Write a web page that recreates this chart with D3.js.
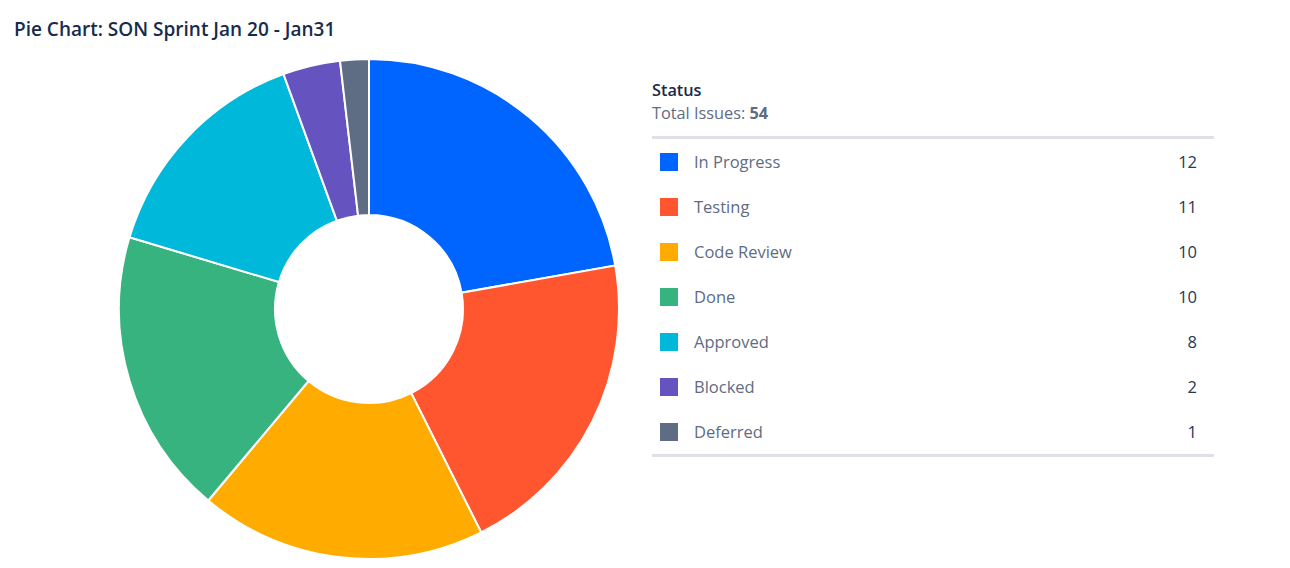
<!DOCTYPE html>
<html><head><meta charset="utf-8">
<script src="https://cdn.jsdelivr.net/npm/d3@7"></script>
<style>
body{margin:0;background:#fff;font-family:"Open Sans","Noto Sans",sans-serif;}
</style></head>
<body><svg id="c" width="1290" height="568"></svg>
<script>
const categories = ["In Progress","Testing","Code Review","Done","Approved","Blocked","Deferred"];
const values = [12,11,10,10,8,2,1];
const colors = ["#0065ff","#ff5630","#ffab00","#36b37e","#00b8d9","#6554c0","#5e6c84"];
const title = "Pie Chart: SON Sprint Jan 20 - Jan31";
const legendTitle = "Status";
const totalLabel = "Total Issues: ";

const svg = d3.select("#c");
svg.append("text").attr("x",14).attr("y",36).attr("font-size",19).attr("font-weight",600)
  .attr("fill","#172b4d").text(title);

const data = categories.map((c,i)=>({name:c,value:values[i],color:colors[i]}));
const pie = d3.pie().value(d=>d.value).sort(null);
const arc = d3.arc().innerRadius(94).outerRadius(250);
const g = svg.append("g").attr("transform","translate(369,309)");
g.selectAll("path").data(pie(data)).join("path")
  .attr("d",arc).attr("fill",d=>d.data.color).attr("stroke","#fff").attr("stroke-width",2);

const lx = 652, lw = 562;
svg.append("text").attr("x",lx).attr("y",96).attr("font-size",16.3).attr("font-weight",600)
  .attr("fill","#172b4d").text(legendTitle);
const tt = svg.append("text").attr("x",lx).attr("y",119).attr("font-size",16.3).attr("fill","#5e6c84");
tt.append("tspan").text(totalLabel);
tt.append("tspan").attr("font-weight",700).text(d3.sum(values));
svg.append("rect").attr("x",lx).attr("y",136).attr("width",lw).attr("height",3).attr("fill","#dfe1e6");

const y = d3.scalePoint().domain(categories).range([162,432]);
const rows = svg.selectAll("g.row").data(data).join("g").attr("class","row")
  .attr("transform",d=>`translate(0,${y(d.name)})`);
rows.append("rect").attr("x",660).attr("y",-9).attr("width",18).attr("height",18).attr("fill",d=>d.color);
rows.append("text").attr("x",694).attr("y",6).attr("font-size",16.5).attr("fill","#5e6c84").text(d=>d.name);
rows.append("text").attr("x",1197).attr("y",6).attr("font-size",16.5).attr("text-anchor","end")
  .attr("fill","#253858").text(d=>d.value);
svg.append("rect").attr("x",lx).attr("y",454).attr("width",lw).attr("height",3).attr("fill","#dfe1e6");
</script></body></html>
